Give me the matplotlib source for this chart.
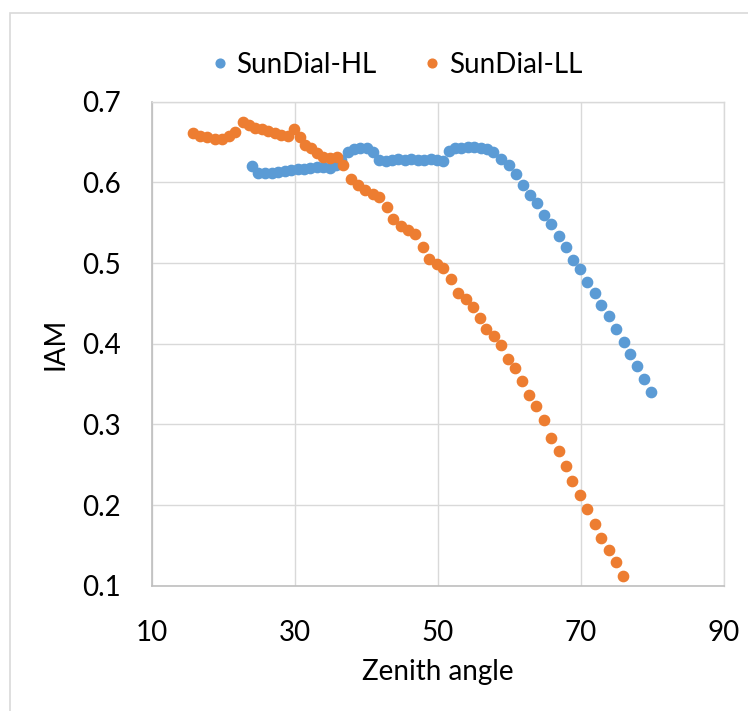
import matplotlib.pyplot as plt
from matplotlib.patches import Rectangle

# zenith angle (deg) and IAM
hl_angle = [24.0, 24.9, 25.9, 26.8, 27.7, 28.6, 29.5, 30.4, 31.3, 32.2,
            33.1, 34.0, 34.9, 35.8, 36.5, 37.4, 38.3, 39.2, 40.1, 41.0,
            41.8, 42.7, 43.6, 44.5, 45.4, 46.3, 47.2, 48.1, 49.0, 49.9,
            50.8, 51.6, 52.4, 53.3, 54.2, 55.1, 56.0, 56.9, 57.8, 58.9,
            60.0, 60.9, 61.9, 62.9, 63.9, 64.9, 65.9, 66.9, 67.9, 68.9,
            69.9, 70.9, 72.0, 72.9, 73.9, 74.9, 76.0, 76.9, 77.9, 78.9, 79.9]
hl_iam = [0.620, 0.612, 0.611, 0.612, 0.613, 0.614, 0.615, 0.616, 0.617, 0.618,
          0.619, 0.619, 0.618, 0.621, 0.628, 0.638, 0.641, 0.643, 0.643, 0.638,
          0.628, 0.627, 0.628, 0.629, 0.628, 0.629, 0.628, 0.628, 0.629, 0.628,
          0.627, 0.639, 0.642, 0.643, 0.644, 0.644, 0.642, 0.641, 0.638, 0.629,
          0.622, 0.610, 0.597, 0.584, 0.574, 0.560, 0.548, 0.534, 0.520, 0.504,
          0.492, 0.476, 0.463, 0.448, 0.434, 0.418, 0.402, 0.387, 0.372, 0.356, 0.340]

ll_angle = [15.8, 16.8, 17.8, 18.8, 19.8, 20.8, 21.6, 22.7, 23.6, 24.5,
            25.4, 26.3, 27.2, 28.1, 29.0, 29.9, 30.7, 31.5, 32.3, 33.1,
            34.0, 35.0, 35.9, 36.8, 37.9, 38.9, 39.9, 40.9, 41.8, 42.9,
            43.8, 44.8, 45.9, 46.8, 47.9, 48.8, 49.9, 50.8, 51.9, 52.8,
            54.0, 55.0, 55.9, 56.8, 57.9, 58.8, 59.8, 60.8, 61.8, 62.8,
            63.8, 64.9, 65.9, 66.9, 67.9, 68.8, 69.9, 70.9, 72.0, 72.9,
            73.9, 75.0, 75.9]
ll_iam = [0.661, 0.658, 0.656, 0.654, 0.654, 0.657, 0.663, 0.675, 0.671, 0.668,
          0.666, 0.664, 0.661, 0.659, 0.658, 0.666, 0.656, 0.646, 0.642, 0.636,
          0.632, 0.630, 0.632, 0.622, 0.604, 0.597, 0.590, 0.586, 0.582, 0.569,
          0.555, 0.546, 0.541, 0.536, 0.520, 0.505, 0.499, 0.494, 0.480, 0.463,
          0.456, 0.445, 0.432, 0.418, 0.409, 0.399, 0.381, 0.370, 0.354, 0.337,
          0.323, 0.305, 0.283, 0.267, 0.248, 0.230, 0.212, 0.195, 0.176, 0.159,
          0.144, 0.129, 0.112]

x_ticks = [10, 30, 50, 70, 90]
y_ticks = [0.1, 0.2, 0.3, 0.4, 0.5, 0.6, 0.7]

plt.rcParams['font.family'] = ['Lato', 'DejaVu Sans']

fig = plt.figure(figsize=(7.48, 7.11), dpi=100)
# chart area border (only left/top visible in the crop)
fig.patches.append(Rectangle((10 / 748, -0.1), 1.2, 1 - 13 / 711 + 0.1,
                             transform=fig.transFigure, fill=False,
                             edgecolor='#D9D9D9', linewidth=1.2))

ax = fig.add_axes([151.7 / 748, 1 - 585.7 / 711, 572 / 748, 484 / 711])

ax.plot(hl_angle, hl_iam, 'o', color='#5B9BD5', markersize=7.4, label='SunDial-HL')
ax.plot(ll_angle, ll_iam, 'o', color='#ED7D31', markersize=7.4, label='SunDial-LL')

ax.set_xlim(10, 90)
ax.set_ylim(0.1, 0.7)
ax.set_xticks(x_ticks)
ax.set_yticks(y_ticks)
ax.set_yticklabels([f'{v:.1f}' for v in y_ticks])
ax.grid(True, color='#D9D9D9', linewidth=1.0)
ax.set_axisbelow(True)
for side in ['top', 'right']:
    ax.spines[side].set_color('#D9D9D9')
    ax.spines[side].set_linewidth(1.0)
for side in ['left', 'bottom']:
    ax.spines[side].set_color('#BFBFBF')
    ax.spines[side].set_linewidth(1.2)
ax.tick_params(length=0, labelsize=20, colors='#000000')
ax.tick_params(axis='x', pad=25)
ax.tick_params(axis='y', pad=22)

ax.set_xlabel('Zenith angle', fontsize=20, labelpad=9)
ax.set_ylabel('IAM', fontsize=20, labelpad=10)

fig.legend(loc='center', bbox_to_anchor=(0.527, 0.909), ncol=2, frameon=False,
           fontsize=20, markerscale=0.85, handletextpad=0.1, columnspacing=1.5,
           handlelength=1.0)

fig.savefig('out.png', dpi=100)
